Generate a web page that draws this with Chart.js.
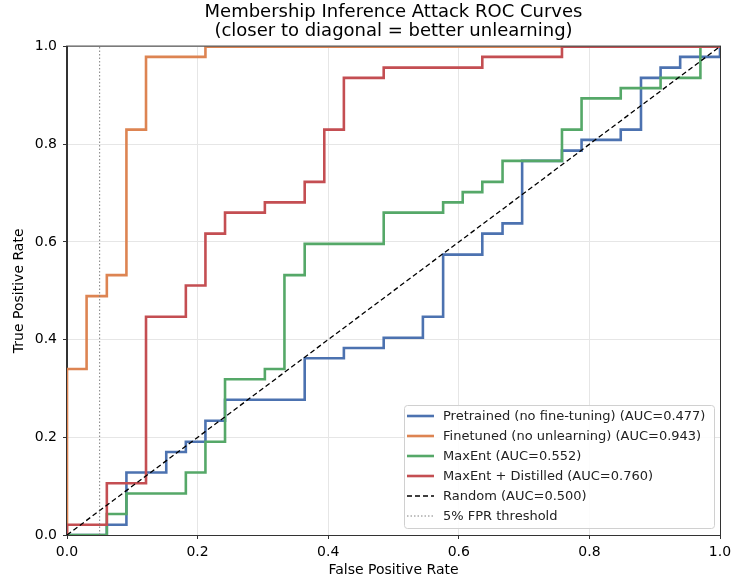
<!DOCTYPE html>
<html lang="en">
<head>
<meta charset="UTF-8">
<title>MIA ROC</title>
<script src="https://cdn.jsdelivr.net/npm/chart.js@4.4.1/dist/chart.umd.min.js"></script>
<style>
  html, body { margin: 0; padding: 0; background: #fff; }
  #wrap { width: 732px; height: 579px; }
</style>
</head>
<body>
<div id="wrap"><canvas id="roc"></canvas></div>
<script>
// ROC corner points
const pretrainedFpr = [0, 0.061, 0.061, 0.091, 0.091, 0.152, 0.152, 0.182, 0.182, 0.212, 0.212, 0.242, 0.242, 0.364, 0.364, 0.424, 0.424, 0.485, 0.485, 0.545, 0.545, 0.576, 0.576, 0.636, 0.636, 0.667, 0.667, 0.697, 0.697, 0.758, 0.758, 0.788, 0.788, 0.848, 0.848, 0.879, 0.879, 0.909, 0.909, 0.939, 0.939, 1, 1]
const pretrainedTpr = [0, 0, 0.021, 0.021, 0.128, 0.128, 0.170, 0.170, 0.191, 0.191, 0.234, 0.234, 0.277, 0.277, 0.362, 0.362, 0.383, 0.383, 0.404, 0.404, 0.447, 0.447, 0.574, 0.574, 0.617, 0.617, 0.638, 0.638, 0.766, 0.766, 0.787, 0.787, 0.809, 0.809, 0.830, 0.830, 0.936, 0.936, 0.957, 0.957, 0.979, 0.979, 1]

const finetunedFpr = [0, 0, 0.030, 0.030, 0.061, 0.061, 0.091, 0.091, 0.121, 0.121, 0.212, 0.212, 1]
const finetunedTpr = [0, 0.340, 0.340, 0.489, 0.489, 0.532, 0.532, 0.830, 0.830, 0.979, 0.979, 1, 1]

const maxentFpr = [0, 0.061, 0.061, 0.091, 0.091, 0.182, 0.182, 0.212, 0.212, 0.242, 0.242, 0.303, 0.303, 0.333, 0.333, 0.364, 0.364, 0.485, 0.485, 0.576, 0.576, 0.606, 0.606, 0.636, 0.636, 0.667, 0.667, 0.758, 0.758, 0.788, 0.788, 0.848, 0.848, 0.909, 0.909, 0.970, 0.970, 1]
const maxentTpr = [0, 0, 0.043, 0.043, 0.085, 0.085, 0.128, 0.128, 0.191, 0.191, 0.319, 0.319, 0.340, 0.340, 0.532, 0.532, 0.596, 0.596, 0.660, 0.660, 0.681, 0.681, 0.702, 0.702, 0.723, 0.723, 0.766, 0.766, 0.830, 0.830, 0.894, 0.894, 0.915, 0.915, 0.936, 0.936, 1, 1]

const distilledFpr = [0, 0, 0.061, 0.061, 0.121, 0.121, 0.182, 0.182, 0.212, 0.212, 0.242, 0.242, 0.303, 0.303, 0.364, 0.364, 0.394, 0.394, 0.424, 0.424, 0.485, 0.485, 0.636, 0.636, 0.758, 0.758, 1]
const distilledTpr = [0, 0.021, 0.021, 0.106, 0.106, 0.447, 0.447, 0.511, 0.511, 0.617, 0.617, 0.660, 0.660, 0.681, 0.681, 0.723, 0.723, 0.830, 0.830, 0.936, 0.936, 0.957, 0.957, 0.979, 0.979, 1, 1]

const randomFpr = [0, 1]
const randomTpr = [0, 1]
const thresholdFpr = [0.05, 0.05]
const thresholdTpr = [0, 1]

const labels = [
  "Pretrained (no fine-tuning) (AUC=0.477)",
  "Finetuned (no unlearning) (AUC=0.943)",
  "MaxEnt (AUC=0.552)",
  "MaxEnt + Distilled (AUC=0.760)",
  "Random (AUC=0.500)",
  "5% FPR threshold"
]
const colors = ["#4c72b0", "#dd8452", "#55a868", "#c44e52", "#000000", "#808080"]

function pts(xs, ys) {
  return xs.map((x, i) => ({x: x, y: ys[i]}))
}

const FONT = "'DejaVu Sans', sans-serif"

function curve(i, xs, ys) {
  return {
    label: labels[i],
    data: pts(xs, ys),
    borderColor: colors[i],
    borderWidth: 2.6,
    showLine: true,
    pointRadius: 0,
    fill: false,
    order: 10 - i
  }
}

const datasets = [
  curve(0, pretrainedFpr, pretrainedTpr),
  curve(1, finetunedFpr, finetunedTpr),
  curve(2, maxentFpr, maxentTpr),
  curve(3, distilledFpr, distilledTpr),
  {label: labels[4], data: pts(randomFpr, randomTpr), borderColor: colors[4], borderWidth: 1.3,
   borderDash: [5, 3], showLine: true, pointRadius: 0, order: 2},
  {label: labels[5], data: pts(thresholdFpr, thresholdTpr), borderColor: colors[5], borderWidth: 1,
   borderDash: [1.5, 2], showLine: true, pointRadius: 0, order: 1}
]

// frame + legend box like matplotlib
const extras = {
  id: "extras",
  afterDraw(chart) {
    const ctx = chart.ctx
    const a = chart.chartArea
    ctx.save()
    ctx.strokeStyle = "#333"
    ctx.lineWidth = 1
    ctx.strokeRect(a.left - 0.5, a.top - 0.5, a.right - a.left + 1, a.bottom - a.top + 1)

    const bx = 404, by = 405, bw = 310, bh = 123
    ctx.fillStyle = "rgba(255,255,255,0.85)"
    ctx.strokeStyle = "#d0d0d0"
    ctx.beginPath()
    ctx.roundRect(bx + 0.5, by + 0.5, bw, bh, 3)
    ctx.fill()
    ctx.stroke()

    ctx.font = "13px " + FONT
    ctx.textBaseline = "middle"
    chart.data.datasets.forEach((ds, i) => {
      const y = by + 11 + i * 20
      ctx.strokeStyle = ds.borderColor
      ctx.lineWidth = ds.borderWidth
      ctx.setLineDash(ds.borderDash || [])
      ctx.beginPath()
      ctx.moveTo(bx + 3, y)
      ctx.lineTo(bx + 30, y)
      ctx.stroke()
      ctx.setLineDash([])
      ctx.fillStyle = "#222"
      ctx.fillText(ds.label, bx + 39, y + 1)
    })
    ctx.restore()
  }
}

new Chart("roc", {
  type: "scatter",
  data: {datasets: datasets},
  plugins: [extras],
  options: {
    responsive: true,
    maintainAspectRatio: false,
    animation: false,
    layout: {padding: {left: 0, right: 12, top: 0, bottom: 0}},
    plugins: {
      legend: {display: false},
      tooltip: {enabled: false},
      title: {
        display: true,
        fullSize: false,
        text: ["Membership Inference Attack ROC Curves", "(closer to diagonal = better unlearning)"],
        color: "#000",
        font: {family: FONT, size: 18, weight: "normal", lineHeight: 1.1},
        padding: {top: 2, bottom: 5}
      }
    },
    scales: {
      x: {
        type: "linear", min: 0, max: 1,
        afterFit: (s) => { s.height = 44; s.paddingLeft = 0; s.paddingRight = 0 },
        ticks: {stepSize: 0.2, color: "#000", padding: 5, font: {family: FONT, size: 14},
                callback: (v) => v.toFixed(1)},
        grid: {color: "#e6e6e6", tickColor: "#333", tickLength: 4},
        border: {color: "#333"},
        title: {display: true, text: "False Positive Rate", color: "#000",
                font: {family: FONT, size: 14}, padding: {top: 2, bottom: 0}}
      },
      y: {
        type: "linear", min: 0, max: 1,
        afterFit: (s) => { s.width = 67; s.paddingTop = 0; s.paddingBottom = 0 },
        ticks: {stepSize: 0.2, color: "#000", padding: 6, font: {family: FONT, size: 14},
                callback: (v) => v.toFixed(1)},
        grid: {color: "#e6e6e6", tickColor: "#333", tickLength: 4},
        border: {color: "#333"},
        title: {display: true, text: "True Positive Rate", color: "#000",
                font: {family: FONT, size: 14}, padding: {top: 11, bottom: 0}}
      }
    }
  }
})
</script>
</body>
</html>
